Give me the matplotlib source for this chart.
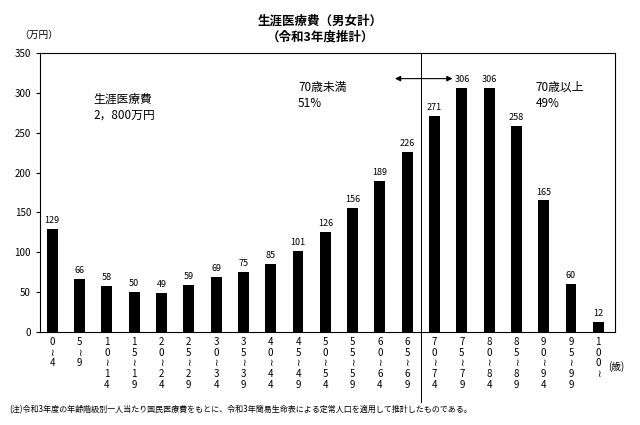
import matplotlib
matplotlib.use("Agg")
import matplotlib.pyplot as plt

plt.rcParams["font.family"] = ["Noto Sans CJK JP", "DejaVu Sans"]

starts = list(range(0, 101, 5))
values = [129, 66, 58, 50, 49, 59, 69, 75, 85, 101, 126, 156, 189, 226, 271, 306, 306, 258, 165, 60, 12]
yticks = list(range(0, 351, 50))

def lab(s):
    if s == 100:
        return "\n".join(list("100") + ["≀"])
    return "\n".join(list(str(s)) + ["≀"] + list(str(s + 4)))

fig = plt.figure(figsize=(6.4, 4.25), dpi=100)
ax = fig.add_axes([0.0625, 0.219, 0.898, 0.656])
x = list(range(len(values)))
ax.bar(x, values, width=0.4, color="black")
for i, v in zip(x, values):
    ax.text(i, v + 5, str(v), ha="center", va="bottom", fontsize=6.5)
ax.set_xlim(-0.45, 20.6)
ax.set_ylim(0, 350)
ax.set_yticks(yticks)
ax.tick_params(axis="y", labelsize=7, length=3)
ax.set_xticks(x)
ax.set_xticklabels([lab(s) for s in starts], fontsize=7, va="top", linespacing=1.1)
ax.tick_params(axis="x", length=3, direction="in")
for sp in ax.spines.values():
    sp.set_linewidth(0.8)
ax.plot([13.5, 13.5], [-0.25, 1.0], transform=ax.get_xaxis_transform(), color="black", lw=0.7, clip_on=False)
ax.annotate("", xy=(12.45, 318), xytext=(14.76, 318), arrowprops=dict(arrowstyle="<|-|>", color="black", lw=0.8, mutation_scale=8))
ax.text(1.5, 300, "生涯医療費\n2，800万円", fontsize=8.5, va="top", linespacing=1.3)
ax.text(9.0, 315, "70歳未満\n51%", fontsize=8.5, va="top", linespacing=1.3)
ax.text(17.7, 315, "70歳以上\n49%", fontsize=8.5, va="top", linespacing=1.3)
fig.text(0.5, 0.965, "生涯医療費（男女計）\n（令和3年度推計）", ha="center", va="top", fontsize=9, fontweight="bold", linespacing=1.3)
fig.text(0.03, 0.905, "（万円）", fontsize=7, va="bottom")
fig.text(0.975, 0.13, "(歳)", fontsize=7, ha="right")
fig.text(0.015, 0.03, "(注)令和3年度の年齢階級別一人当たり国民医療費をもとに、令和3年簡易生命表による定常人口を適用して推計したものである。", fontsize=5.8)
fig.savefig("out.png", dpi=100)
